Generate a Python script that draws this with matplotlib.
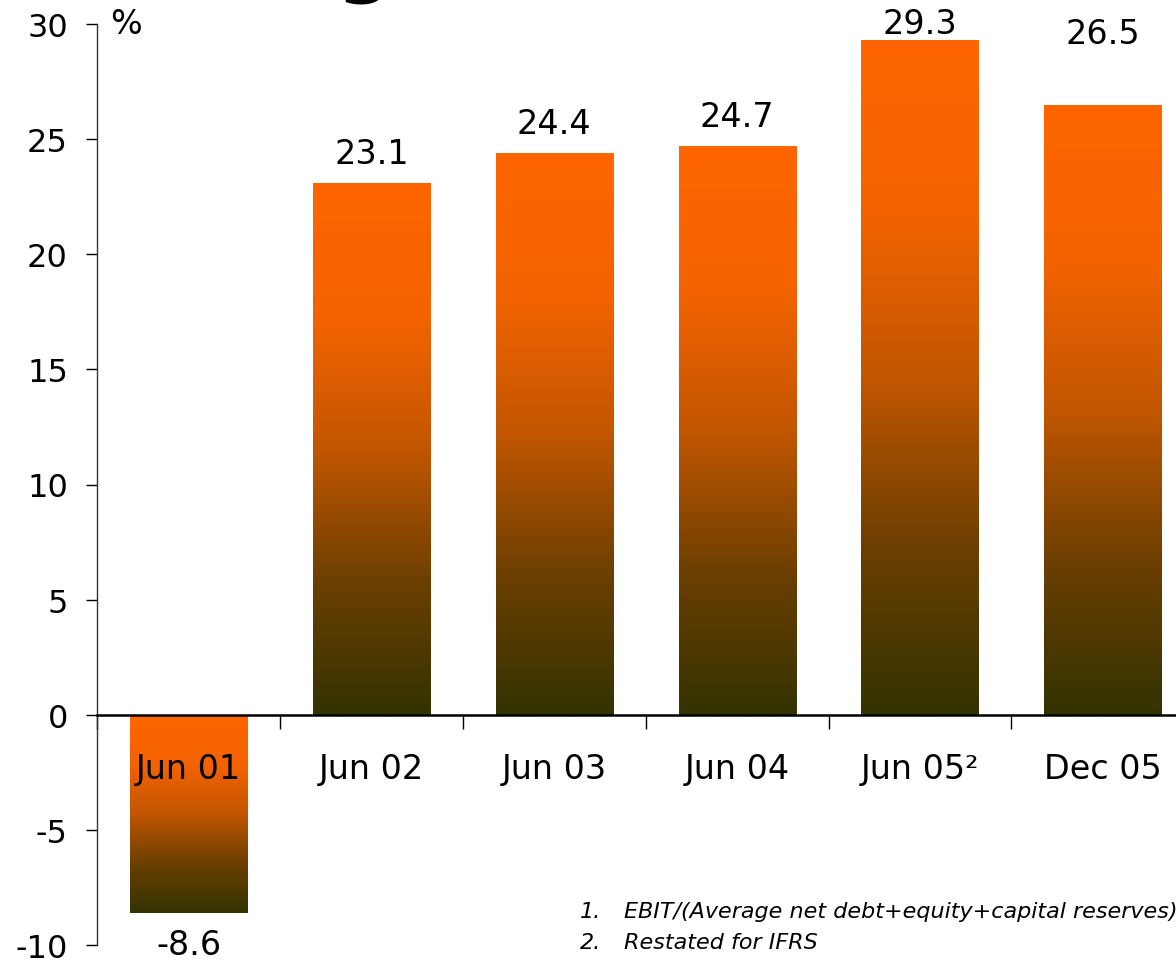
import numpy as np
import matplotlib.pyplot as plt
from matplotlib.colors import LinearSegmentedColormap

# Dados
categorias = ["Jun 01", "Jun 02", "Jun 03", "Jun 04", "Jun 05²", "Dec 05"]
valores = [-8.6, 23.1, 24.4, 24.7, 29.3, 26.5]
rotulos = ["-8.6", "23.1", "24.4", "24.7", "29.3", "26.5"]
notas_num = ["1.", "2."]
notas = ["EBIT/(Average net debt+equity+capital reserves)",
         "Restated for IFRS"]

plt.rcParams['font.family'] = ['DejaVu Sans']
plt.rcParams['axes.unicode_minus'] = False

fig = plt.figure(figsize=(11.76, 9.62), dpi=100)
ax = fig.add_axes([97 / 1176, 16 / 962, 1 - 97 / 1176, 921 / 962])

# Gradiente laranja -> oliva escuro
cmap = LinearSegmentedColormap.from_list(
    "grad", [(0.0, "#333300"), (0.25, "#6c3f00"), (0.5, "#c25600"),
             (0.75, "#f46300"), (1.0, "#ff6600")])
grad = np.linspace(0, 1, 512).reshape(-1, 1)

x = np.arange(len(categorias))
barras = ax.bar(x, valores, width=0.64, color="none", edgecolor="none", zorder=1)
for b, v in zip(barras, valores):
    x0 = b.get_x()
    x1 = x0 + b.get_width()
    im = ax.imshow(grad, cmap=cmap, origin="lower", aspect="auto",
                   extent=[x0, x1, min(0, v), max(0, v)], zorder=1,
                   interpolation="bilinear")
    im.set_clip_path(b)

# Rótulos dos valores
for i, (v, r) in enumerate(zip(valores, rotulos)):
    if v < 0:
        ax.annotate(r, (x[i], v), xytext=(0, -23), textcoords="offset points",
                    ha="center", va="center", fontsize=24)
    elif i >= 4:
        ax.text(x[i], 30.0 if i == 4 else 29.6, r, ha="center", va="center", fontsize=24)
    else:
        ax.annotate(r, (x[i], v), xytext=(0, 21), textcoords="offset points",
                    ha="center", va="center", fontsize=24)

ax.set_xlim(-0.5, 5.4)
ax.set_ylim(-10, 30)
ax.autoscale(False)

# Eixos
ax.spines["top"].set_visible(False)
ax.spines["right"].set_visible(False)
ax.spines["bottom"].set_position(("data", 0))
ax.spines["bottom"].set_linewidth(1.8)
ax.spines["left"].set_linewidth(1.0)
ax.spines["left"].set_color("#333333")

ax.set_yticks(np.arange(-10, 31, 5))
ax.tick_params(axis="y", length=8, width=1, pad=13, labelsize=23)

ax.set_xticks(np.arange(-0.5, 5.0, 1.0))
ax.set_xticklabels([])
ax.tick_params(axis="x", which="major", length=10, width=1, direction="out")
ax.set_xticks(x, minor=True)
ax.set_xticklabels(categorias, minor=True)
ax.tick_params(axis="x", which="minor", length=0, pad=27, labelsize=24)
for t in ax.get_xticklabels(minor=True):
    t.set_zorder(5)

ax.text(-0.43, 30, "%", ha="left", va="center", fontsize=24)

# Título cortado
fig.text(364 / 1176, 1 + 12 / 962, "g", ha="center", va="baseline",
         fontsize=56, fontweight="bold")

# Notas de rodapé
for k, (n, t) in enumerate(zip(notas_num, notas)):
    yk = 1 - (912 + 31 * k) / 962
    fig.text(580 / 1176, yk, n, ha="left", va="center", fontsize=16, style="italic")
    fig.text(624 / 1176, yk, t, ha="left", va="center", fontsize=16, style="italic")

fig.savefig("out.png", dpi=100)
